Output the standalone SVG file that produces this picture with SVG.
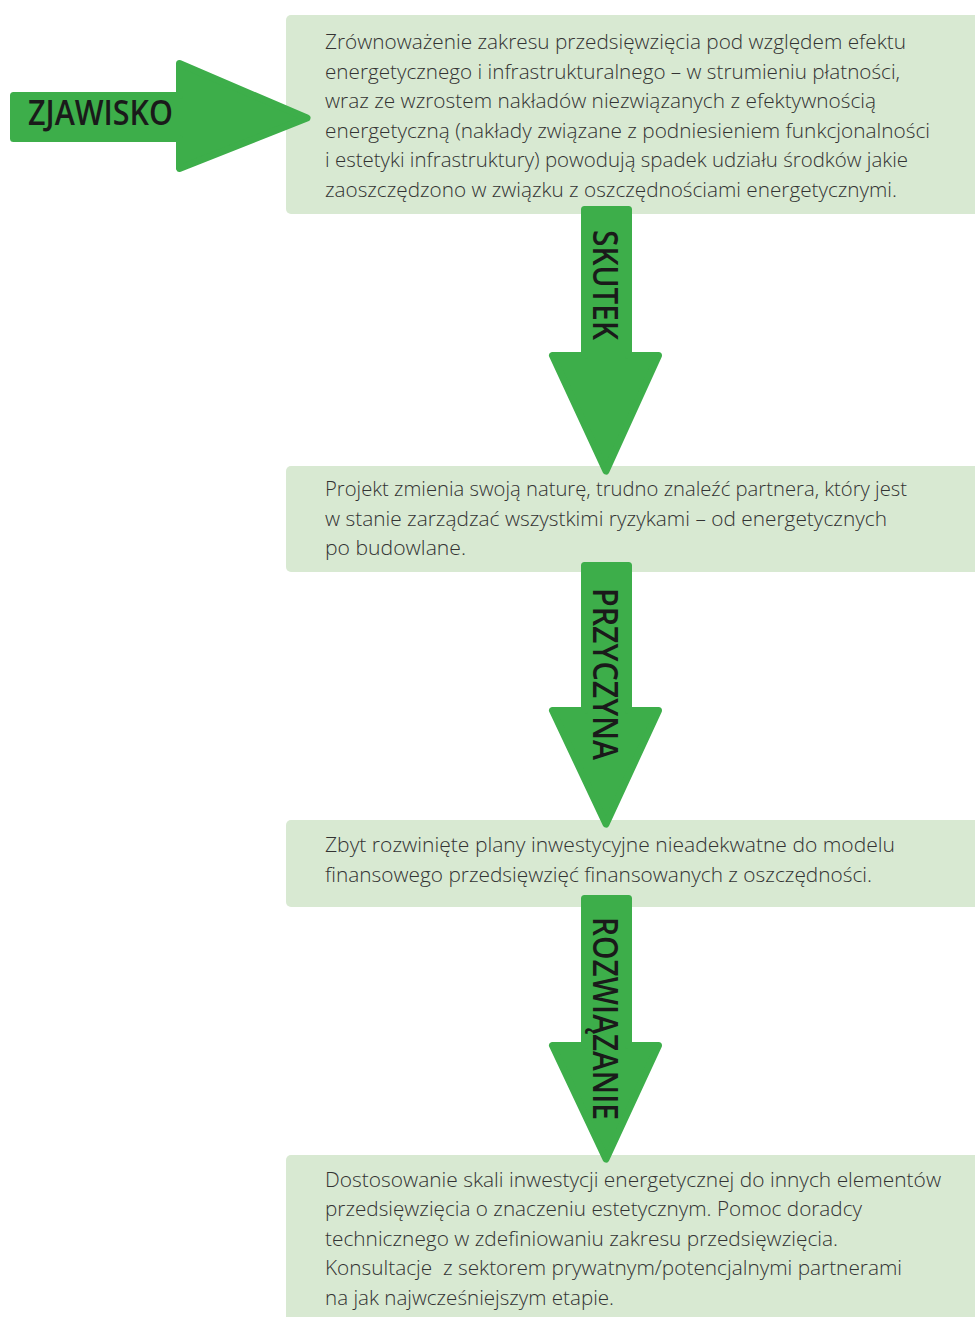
<svg xmlns="http://www.w3.org/2000/svg" width="975" height="1317" viewBox="0 0 975 1317">
<style>
.box{fill:#d8e9d2}
.arr{fill:#3dae4a;stroke:#3dae4a;stroke-width:7;stroke-linejoin:round}
.t{font-family:"Open Sans","Liberation Sans",sans-serif;font-weight:300;font-size:21px;fill:#333333}
.lab{font-family:"Open Sans","Liberation Sans",sans-serif;font-weight:600;font-size:34px;fill:#1a1a1a}
</style>
<rect width="975" height="1317" fill="#ffffff"/>
<g id="node-zjawisko-box">
<rect class="box" x="286" y="15" width="700" height="199" rx="5"/>
<text class="t">
<tspan x="325" y="49" textLength="581" lengthAdjust="spacingAndGlyphs">Zrównoważenie zakresu przedsięwzięcia pod względem efektu</tspan>
<tspan x="325" y="79" textLength="575" lengthAdjust="spacingAndGlyphs">energetycznego i infrastrukturalnego – w strumieniu płatności,</tspan>
<tspan x="325" y="108" textLength="551" lengthAdjust="spacingAndGlyphs">wraz ze wzrostem nakładów niezwiązanych z efektywnością</tspan>
<tspan x="325" y="138" textLength="605" lengthAdjust="spacingAndGlyphs">energetyczną (nakłady związane z podniesieniem funkcjonalności</tspan>
<tspan x="325" y="167" textLength="583" lengthAdjust="spacingAndGlyphs">i estetyki infrastruktury) powodują spadek udziału środków jakie</tspan>
<tspan x="325" y="197" textLength="572" lengthAdjust="spacingAndGlyphs">zaoszczędzono w związku z oszczędnościami energetycznymi.</tspan>
</text>
</g>
<g id="node-skutek-box">
<rect class="box" x="286" y="466" width="700" height="106" rx="5"/>
<text class="t">
<tspan x="325" y="496" textLength="582" lengthAdjust="spacingAndGlyphs">Projekt zmienia swoją naturę, trudno znaleźć partnera, który jest</tspan>
<tspan x="325" y="526" textLength="562" lengthAdjust="spacingAndGlyphs">w stanie zarządzać wszystkimi ryzykami – od energetycznych</tspan>
<tspan x="325" y="555" textLength="141" lengthAdjust="spacingAndGlyphs">po budowlane.</tspan>
</text>
</g>
<g id="node-przyczyna-box">
<rect class="box" x="286" y="820" width="700" height="87" rx="5"/>
<text class="t">
<tspan x="325" y="852" textLength="570" lengthAdjust="spacingAndGlyphs">Zbyt rozwinięte plany inwestycyjne nieadekwatne do modelu</tspan>
<tspan x="325" y="882" textLength="547" lengthAdjust="spacingAndGlyphs">finansowego przedsięwzięć finansowanych z oszczędności.</tspan>
</text>
</g>
<g id="node-rozwiazanie-box">
<rect class="box" x="286" y="1155" width="700" height="180" rx="5"/>
<text class="t">
<tspan x="325" y="1187" textLength="616" lengthAdjust="spacingAndGlyphs">Dostosowanie skali inwestycji energetycznej do innych elementów</tspan>
<tspan x="325" y="1216" textLength="537" lengthAdjust="spacingAndGlyphs">przedsięwzięcia o znaczeniu estetycznym. Pomoc doradcy</tspan>
<tspan x="325" y="1246" textLength="513" lengthAdjust="spacingAndGlyphs">technicznego w zdefiniowaniu zakresu przedsięwzięcia.</tspan>
<tspan x="325" y="1275" textLength="577" lengthAdjust="spacingAndGlyphs" style="white-space:pre">Konsultacje  z sektorem prywatnym/potencjalnymi partnerami</tspan>
<tspan x="325" y="1305" textLength="289" lengthAdjust="spacingAndGlyphs">na jak najwcześniejszym etapie.</tspan>
</text>
</g>
<g id="connectors">
<g id="arrow-zjawisko">
<path class="arr" d="M13.5,95.5 L179.5,95.5 L179.5,63.5 L307,118 L179.5,168.5 L179.5,138.5 L13.5,138.5 Z"/>
<text class="lab" x="28" y="125" textLength="145" lengthAdjust="spacingAndGlyphs">ZJAWISKO</text>
</g>
<g id="arrow-skutek">
<path class="arr" d="M584.5,209.5 L628.5,209.5 L628.5,355.5 L658.5,355.5 L606,471 L552.5,355.5 L584.5,355.5 Z"/>
<text class="lab" transform="translate(593,230) rotate(90)" x="0" y="0" textLength="110" lengthAdjust="spacingAndGlyphs">SKUTEK</text>
</g>
<g id="arrow-przyczyna">
<path class="arr" d="M584.5,565.5 L628.5,565.5 L628.5,710.5 L658.5,710.5 L606,824 L552.5,710.5 L584.5,710.5 Z"/>
<text class="lab" transform="translate(593,588) rotate(90)" x="0" y="0" textLength="172" lengthAdjust="spacingAndGlyphs">PRZYCZYNA</text>
</g>
<g id="arrow-rozwiazanie">
<path class="arr" d="M584.5,898.5 L628.5,898.5 L628.5,1045.5 L658.5,1045.5 L606,1159 L552.5,1045.5 L584.5,1045.5 Z"/>
<text class="lab" transform="translate(593,917) rotate(90)" x="0" y="0" textLength="203" lengthAdjust="spacingAndGlyphs">ROZWIĄZANIE</text>
</g>
</g>
</svg>
